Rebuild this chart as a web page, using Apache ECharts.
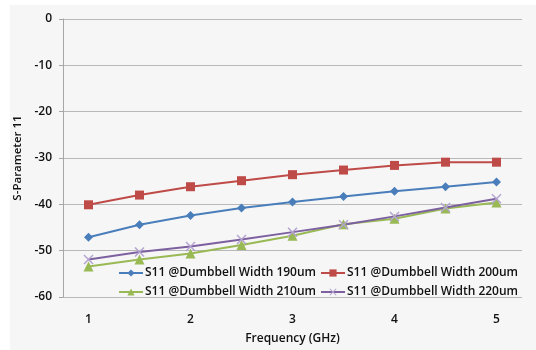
<!DOCTYPE html>
<html><head><meta charset="utf-8">
<script src="https://cdn.jsdelivr.net/npm/echarts@6/dist/echarts.min.js"></script>
<style>html,body{margin:0;padding:0;background:#fff;}#c{width:536px;height:350px;}</style>
</head><body><div id="c"></div>
<script>
var categories = ['1','1.5','2','2.5','3','3.5','4','4.5','5'];
var s190 = [-47.1,-44.4,-42.4,-40.8,-39.5,-38.3,-37.2,-36.2,-35.2];
var s200 = [-40.1,-38.0,-36.2,-34.9,-33.6,-32.6,-31.6,-30.9,-30.9];
var s210 = [-53.4,-51.9,-50.6,-48.8,-46.8,-44.3,-43.1,-40.9,-39.6];
var s220 = [-51.9,-50.3,-49.1,-47.6,-46.0,-44.4,-42.6,-40.7,-38.8];
var names = ['S11 @Dumbbell Width 190um','S11 @Dumbbell Width 200um','S11 @Dumbbell Width 210um','S11 @Dumbbell Width 220um'];
var yTicks = {min:-60, max:0, interval:10};

var FONT = 'Open Sans';
var xMark = 'path://M0,1 L1,0 L5,4 L9,0 L10,1 L6,5 L10,9 L9,10 L5,6 L1,10 L0,9 L4,5 Z';
var txt = {fontFamily:FONT, fontSize:12, fontWeight:600, color:'#111'};
function leg(name, left, top){
  return {data:[name], left:left, top:top, itemWidth:24, itemHeight:9, itemGap:0,
    textStyle:Object.assign({}, txt, {fontSize:12, padding:[0,0,0,-3]}), padding:0};
}
var chart = echarts.init(document.getElementById('c'), null, {renderer:'canvas'});
chart.setOption({
  animation:false,
  backgroundColor:'#ffffff',
  graphic:[{type:'rect', z:-10, shape:{x:10,y:5,width:526,height:345}, style:{fill:'#f6f6f6'}}],
  grid:{left:63, right:14, top:19, bottom:53},
  legend:[leg(names[0],118,267), leg(names[1],320,267), leg(names[2],118,286), leg(names[3],320,286)],
  xAxis:{type:'category', data:categories, boundaryGap:true,
    name:'Frequency (GHz)', nameLocation:'middle', nameGap:36,
    nameTextStyle:Object.assign({}, txt),
    axisLine:{show:false}, axisTick:{show:false},
    axisLabel:Object.assign({}, txt, {interval:1, margin:17})},
  yAxis:{type:'value', min:yTicks.min, max:yTicks.max, interval:yTicks.interval,
    name:'S-Parameter 11', nameLocation:'middle', nameGap:29, nameRotate:90,
    nameTextStyle:Object.assign({}, txt, {fontSize:11.5}),
    axisLine:{show:true, lineStyle:{color:'#a6a6a6', width:1}},
    axisTick:{show:true, length:4, lineStyle:{color:'#a6a6a6'}},
    axisLabel:Object.assign({}, txt, {margin:11}),
    splitLine:{lineStyle:{color:'#b8b8b8', width:1}}},
  series:[
    {name:names[0], type:'line', data:s190, symbol:'diamond', symbolSize:9,
     lineStyle:{color:'#4a7ebb', width:2}, itemStyle:{color:'#4a7ebb'}},
    {name:names[1], type:'line', data:s200, symbol:'rect', symbolSize:9,
     lineStyle:{color:'#be4b48', width:2}, itemStyle:{color:'#be4b48'}},
    {name:names[2], type:'line', data:s210, symbol:'triangle', symbolSize:10,
     lineStyle:{color:'#98b954', width:2}, itemStyle:{color:'#98b954'}},
    {name:names[3], type:'line', data:s220, symbol:xMark, symbolSize:10,
     lineStyle:{color:'#7d60a0', width:2}, itemStyle:{color:'#b3a2cf'}}
  ]
});
</script></body></html>
